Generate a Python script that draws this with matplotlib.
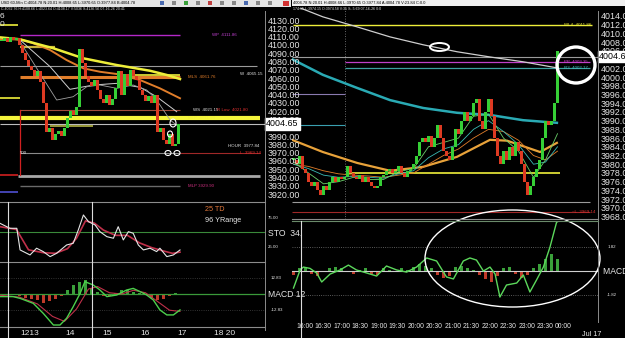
import numpy as np
import matplotlib.pyplot as plt
from matplotlib.patches import Ellipse, Rectangle

plt.rcParams['font.family'] = ['Liberation Sans', 'DejaVu Sans']

W, H = 625, 338

# ---------------- left chart: 60-min bars ----------------
left_close = [4105, 4108, 4103, 4110, 4106, 4108, 4100, 4090, 4082, 4075,
              4070, 4062, 4068, 4055, 4030, 3995, 4000, 3985, 3992, 3996,
              3990, 4000, 4012, 4020, 4015, 4025, 4095, 4078, 4062, 4055,
              4050, 4058, 4045, 4035, 4030, 4040, 4028, 4035, 4048, 4068,
              4040, 4065, 4050, 4070, 4062, 4058, 4045, 4040, 4032, 4038,
              4030, 4040, 3995, 4000, 3985, 3980, 3992, 3978, 3980, 4004]

left_yellow_x = [-0.5, 6.2, 17.3, 27.3, 38.4, 49.5, 55.1, 59.5]
left_yellow = [4109.1, 4106.7, 4095.9, 4083.8, 4075.7, 4068.8, 4063.7, 4058.8]
left_orange_x = [-0.5, 6.2, 10.6, 16.2, 21.7, 27.3, 32.8, 38.4, 46.2, 52.8, 59.5]
left_orange = [4106.7, 4106.7, 4101.9, 4093.8, 4081.7, 4071.7, 4067.6, 4064.9,
               4057.6, 4047.6, 4035.6]
left_white1_x = [6.2, 16.2, 22.8, 30.6, 38.4, 46.2, 51.7, 58.4]
left_white1 = [4105.9, 4073.7, 4046.4, 4051.6, 4053.6, 4048.8, 4037.5, 4019.4]
left_white2_x = [6.2, 12.8, 18.4, 23.9, 28.4, 32.8, 38.4, 43.9, 48.4, 51.7, 56.2, 59.0]
left_white2 = [4103.8, 4065.7, 4033.5, 4037.5, 4049.5, 4051.6, 4047.6, 4051.6,
               4045.6, 4033.5, 4009.4, 4001.3]

# level lines: value, start bar, end bar
left_levels = [4111.86, 4075.0, 4061.76, 4064.0, 4097.0, 4124.0, 4036.0, 4021.5,
               4011.9, 4005.0, 4002.0, 3970.0, 3969.14, 3942.0, 3943.0, 3929.9, 3923.0]
left_level_from = [6.2, -0.5, 6.2, 43.9, 6.2, -0.5, -0.5, 6.2,
                   -0.5, -0.5, 16.2, 6.2, 59.5, 5.5, -0.5, 6.2, -0.5]
left_level_to = [59.5, 85.2, 59.5, 59.5, 17.8, 5.5, 6.0, 59.5,
                 86.2, 87.8, 30.5, 59.5, 86.2, 86.2, 5.5, 59.5, 5.5]

# stochastic
sto_x = [-0.5, 2.8, 5.1, 6.2, 9.5, 11.7, 13.9, 16.2, 18.4, 21.7, 23.9, 25.6, 27.3,
         29.0, 31.2, 32.8, 35.1, 37.3, 38.9, 40.6, 42.3, 43.9, 45.6, 47.3, 49.5,
         51.7, 52.8, 55.1, 57.3, 59.5]
sto_k = [65.8, 57.2, 57.2, 19.8, 11.2, 22.8, 17.0, 8.3, 14.1, 28.4, 31.3, 54.3, 80.2,
         68.6, 62.9, 51.4, 42.8, 40.0, 60.0, 37.1, 51.4, 48.6, 28.4, 19.8, 22.8,
         17.0, 22.8, 8.3, 11.2, 19.8]
sto_d_x = [-0.5, 5, 9, 14, 18, 22, 25, 28, 31, 34, 38, 42, 46, 50, 54, 57, 59.5]
sto_d = [60, 55, 20, 15, 14, 22, 40, 70, 66, 54, 45, 45, 32, 24, 18, 14, 16]

# left MACD
macd_l_x = [-0.5, 3.9, 6.2, 10.6, 13.9, 17.3, 19.5, 21.7, 23.9, 26.2, 27.8, 30.6,
            32.8, 35.1, 38.4, 41.7, 43.9, 46.2, 48.4, 50.6, 52.8, 55.1, 57.3, 59.5]
macd_l = [-2.1, -2.1, -3.5, -7.5, -15.5, -24.9, -24.9, -19.5, -10.2, 0.5, 9.9, 7.2,
          3.2, -2.1, -0.8, 3.2, 4.5, 1.9, -0.8, -4.8, -12.8, -16.8, -16.8, -12.8]
sig_l_x = [-0.5, 6, 12, 17, 21, 25, 29, 32, 36, 40, 44, 48, 52, 56, 59.5]
sig_l = [-1, -2.5, -8, -18, -22, -12, 4, 6, 1, 0, 3, 1, -6, -13, -14]
hist_l = [-1, -1, -0.5, -1.5, -3, -4, -5, -7, -6, -4, -2, 3, 7, 10, 11,
          5, 2, -2, -1.5, 1, 3, 3, 2, 1, -1, -3, -5, -4, -2, 1]

left_days = ['1213', '14', '15', '16', '17', '18 20']
left_day_pos = [9.5, 22.8, 35.2, 47.8, 60.2, 74.5]

# ---------------- right chart: 5-min bars ----------------
right_close = [3981, 3980, 3982, 3979, 3978, 3976, 3975, 3976, 3974, 3973,
               3975, 3974, 3976, 3977, 3976, 3977, 3976.5, 3977, 3979.5, 3978,
               3977, 3976.5, 3977.5, 3976, 3977, 3976, 3975, 3974.5, 3975, 3977,
               3977.5, 3978.5, 3979, 3978, 3978.5, 3979.5, 3978, 3977, 3978.5, 3979,
               3980, 3982, 3985, 3986, 3985, 3986.5, 3984, 3986, 3989, 3986,
               3983, 3982, 3981, 3984, 3988, 3987, 3990, 3992, 3990, 3991,
               3994, 3995, 3990, 3988, 3992, 3995, 3991, 3986, 3982, 3980,
               3983, 3981, 3984, 3982, 3985, 3983, 3980, 3976, 3973, 3975,
               3977, 3979, 3981, 3986, 3990, 3989, 3990, 3994, 4006]

r_ma_x = [0, 5, 10, 15, 20, 25, 30, 35, 40, 45, 50, 55, 60, 65, 70, 75, 80, 84, 88]
r_fast = [3980.5, 3978, 3975.5, 3976, 3977, 3976.5, 3976.5, 3978.3, 3979, 3984,
          3985, 3986, 3991, 3991.5, 3986, 3983, 3977, 3981, 3987]
r_mid = [3980, 3979, 3977.5, 3977, 3977.2, 3977, 3976.8, 3977.8, 3978.5, 3981.5,
         3983.5, 3984.5, 3988, 3990, 3987.5, 3984.5, 3980, 3980.5, 3984]
r_slow = [3980, 3979.5, 3978.5, 3977.8, 3977.5, 3977.3, 3977, 3977.5, 3978, 3980,
          3982, 3983.5, 3986, 3988, 3987.5, 3985.5, 3982, 3981, 3983]

r_long_x = [-0.2, 9.8, 21.2, 32.2, 43.2, 54.5, 65.5, 76.5, 87.8]
r_white = [4016.5, 4013.8, 4011.5, 4009.2, 4007.4, 4005.8, 4004.6, 4003.5, 4002.1]
r_cyan = [4004.0, 4000.5, 3997.5, 3994.7, 3992.9, 3991.8, 3991.3, 3990.1, 3989.5]
r_gold_x = [-0.5, 9.8, 21.2, 32.2, 43.2, 54.5, 65.5, 71.2, 82.2, 87.8]
r_gold = [3985.6, 3982.8, 3980.3, 3978.5, 3979.4, 3981.7, 3985.6, 3985.4, 3982.8, 3984.9]

right_levels = [4011.86, 4004.6, 4003.35, 4002.17, 3978.0, 3971.3, 3969.14, 3996.1, 3989.0]
right_level_from = [-0.3, -0.5, 17.0, 17.0, 17.8, -0.5, -0.5, -0.5, -0.5]
right_level_to = [99.5, 101.5, 98.8, 98.8, 88.8, 98.8, 98.8, 17.0, 17.0]

macd_r_x = [0, 2.2, 3.3, 5.5, 7.7, 9.4, 12.2, 15.5, 18.3, 21, 24.4, 27.7, 31, 34.4,
            37.7, 41, 44.4, 47.7, 51, 53.3, 56.6, 58.8, 61, 63.3, 65.5, 67.2, 68.8,
            71, 74.4, 76.6, 78.8, 81, 83.3, 85.5, 87.7, 89.4]
macd_r = [-1.29, 0.08, 0.3, 0.2, -0.15, -0.83, -0.23, 0.08, 0.45, 0.08, -0.15, -0.38,
          0.38, 0.08, -0.08, 0.3, 0.99, 0.76, -0.45, -0.6, 0.76, 0.99, 0.83, 0.0,
          0.3, -0.23, -1.97, -1.06, -0.91, -0.3, -1.59, -0.68, 0.3, 1.82, 3.7, 3.9]
hist_r = [-0.3, 0.2, 0.3, -0.2, -0.4, -0.1, 0.2, 0.3, 0.2, -0.1, -0.2, 0.1, 0.2,
          -0.2, -0.3, 0.2, 0.1, -0.1, 0.2, 0.1, 0.3,
          0.5, 0.4, 0.2, -0.3, -0.5, -0.4, 0.3, 0.4, 0.2, 0.1, -0.3, -0.6, -0.8,
          -0.4, 0.2, 0.3, -0.2, -0.5, -0.3, 0.2, 0.5, 0.9, 1.3, 0.9]

right_times = ['16:00', '16:30', '17:00', '18:30', '19:00', '19:30', '20:00', '20:30',
               '21:00', '21:30', '22:00', '22:30', '23:00', '23:30', '00:00']

last_price = 4004.65

GREEN = '#36cf36'
RED = '#de3a22'
YELLOW = '#eeee3a'
WHITE = '#e6e6e6'

fig = plt.figure(figsize=(W / 100, H / 100), dpi=100, facecolor='black')


def px_axes(x0, y0, x1, y1):
    ax = fig.add_axes([x0 / W, 1 - y1 / H, (x1 - x0) / W, (y1 - y0) / H])
    ax.set_facecolor('none')
    for s in ax.spines.values():
        s.set_visible(False)
    ax.set_xticks([])
    ax.set_yticks([])
    ax.tick_params(length=0, colors=WHITE, labelsize=6.4, pad=2)
    return ax


def draw_candles(ax, closes, width):
    c = np.asarray(closes, float)
    o = np.r_[c[0], c[:-1]]
    x = np.arange(len(c))
    h = c - o
    col = np.where(h >= 0, GREEN, RED)
    h = np.where(np.abs(h) < 0.4, 0.4, h)
    ax.bar(x, h, bottom=o, width=width, color=col, linewidth=0, zorder=4)


def levels(ax, vals, x0, x1, colors, widths):
    for v, a, b, c, w in zip(vals, x0, x1, colors, widths):
        ax.plot([a, b], [v, v], color=c, lw=w, zorder=2, solid_capstyle='butt')


def price_ticks(ax, ticks, hidden):
    # the last-price box covers the tick nearest to it
    ax.yaxis.tick_right()
    ax.set_yticks(ticks)
    ax.set_yticklabels(['' if abs(v - hidden) < 1e-6 else f'{v:.2f}' for v in ticks])
    ax.text(1.004, last_price, f'{last_price:.2f}', transform=ax.get_yaxis_transform(),
            fontsize=6.4, color='black', va='center', ha='left', zorder=6,
            bbox=dict(boxstyle='square,pad=0.12', fc='white', ec='white'))


# ---------- right price (added first so left labels sit on top) ----------
axr = px_axes(292, 8, 598, 219)
axr.set_xlim(-0.5, 101.5)
axr.set_ylim(3967.44, 4015.83)
rcols = [YELLOW, '#9a9a9a', '#c040c8', '#3aa0a0', YELLOW, '#9a9a9a', '#a02828',
         '#8a7ab0', '#3aa0b0']
rlws = [1.0, 0.8, 0.9, 0.9, 1.2, 0.8, 0.8, 0.8, 0.8]
levels(axr, right_levels, right_level_from, right_level_to, rcols, rlws)
axr.axvline(17.0, color='#888888', lw=0.6, ls=(0, (1, 2)), zorder=1)
axr.plot(r_long_x, r_white, color='#cfcfcf', lw=0.9, zorder=3)
axr.plot(r_long_x, r_cyan, color='#2aaab4', lw=1.8, zorder=3)
axr.plot(r_gold_x, r_gold, color='#e8a23a', lw=1.6, zorder=3)
axr.plot(r_ma_x, r_slow, color='#e07d2a', lw=0.6, zorder=3)
axr.plot(r_ma_x, r_mid, color='#3abab4', lw=0.6, zorder=3)
axr.plot(r_ma_x, r_fast, color='#6ad06a', lw=0.6, zorder=3)
draw_candles(axr, right_close, 0.7)
price_ticks(axr, np.arange(3968, 4015, 2), 4004)
tr = axr.get_yaxis_transform()
tiny = 3.2
axr.text(0.89, 4011.86, 'WL4  4011.86', color=YELLOW, fontsize=tiny, va='center', transform=tr)
axr.text(0.89, 4003.35, 'PP  4003.35', color='#d040d0', fontsize=tiny, va='center', transform=tr)
axr.text(0.89, 4002.17, 'R3  4002.17', color='#40c0c0', fontsize=tiny, va='center', transform=tr)
axr.text(0.915, 3969.14, '~L  3969.14', color='#e03030', fontsize=tiny, va='center', transform=tr)

# ---------- right MACD ----------
axq = px_axes(292, 221, 598, 320)
axq.set_xlim(-0.5, 101.5)
axq.set_ylim(-3.71, 3.79)
axq.axhline(0, color='#d0d0d0', lw=0.8)
axq.axhline(1.82, color='#777777', lw=0.6, ls=':')
axq.axhline(-1.82, color='#777777', lw=0.6, ls=':')
hrx = np.arange(0, 89, 2)
hr = np.asarray(hist_r, float)
axq.bar(hrx, hr, width=1.0, color=np.where(hr >= 0, '#3aa03a', '#c03a2a'), linewidth=0)
axq.plot(macd_r_x, macd_r, color='#5cd85c', lw=1.0)
tq = axq.get_yaxis_transform()
axq.text(1.015, 0, 'MACD 1', color=WHITE, fontsize=6.2, va='center', transform=tq)
axq.text(1.03, 1.82, '1.82', color=WHITE, fontsize=tiny, va='center', transform=tq)
axq.text(1.03, -1.82, '-1.82', color=WHITE, fontsize=tiny, va='center', transform=tq)
axq.set_xticks(3.8 + 6.16 * np.arange(len(right_times)))
axq.set_xticklabels(right_times)
axq.tick_params(axis='x', labelsize=4.9, pad=2.5, colors=WHITE)

# ---------- left price ----------
axl = px_axes(0, 8, 265, 201)
axl.set_xlim(-0.5, 87.83)
axl.set_ylim(3911.7, 4144.5)
lcols = ['#b428c8', '#9a9a9a', '#e07d2a', YELLOW, '#c8b43a', YELLOW, YELLOW, '#a04a3a',
         '#f4f43c', '#bdbdbd', '#9a9a3a', '#8a8a8a', '#a02828', '#a8a8a8', '#d02020',
         '#6a6a6a', '#5050d0']
lws = [1.0, 0.8, 2.2, 1.2, 1.6, 1.2, 1.2, 0.8, 3.0, 0.8, 1.4, 0.8, 0.8, 2.0, 1.2, 1.0, 1.2]
levels(axl, left_levels, left_level_from, left_level_to, lcols, lws)
axl.plot([6.0, 6.0], [3943, 4021.5], color='#d02020', lw=0.9, zorder=2)
axl.plot(left_orange_x, left_orange, color='#e07d2a', lw=1.4, zorder=3)
axl.plot(left_yellow_x, left_yellow, color=YELLOW, lw=1.8, zorder=3)
axl.plot(left_white1_x, left_white1, color='#cfcfcf', lw=0.7, zorder=3)
axl.plot(left_white2_x, left_white2, color='#a0a0a0', lw=0.6, zorder=3)
draw_candles(axl, left_close, 0.7)
price_ticks(axl, np.arange(3920, 4131, 10), 4000)
tl = axl.get_yaxis_transform()
axl.text(0.80, 4111.86, 'WP  4111.86', color='#c040d0', fontsize=tiny, va='center', transform=tl)
axl.text(0.71, 4061.76, 'MLS  4061.76', color='#e07d2a', fontsize=tiny, va='center', transform=tl)
axl.text(0.905, 4065.15, 'W  4065.15', color=WHITE, fontsize=tiny, va='center', transform=tl)
axl.text(0.73, 4021.5, 'WS  4021.15', color=WHITE, fontsize=tiny, va='center', transform=tl)
axl.text(0.82, 4021.5, 'R Low  4021.80', color='#e03030', fontsize=tiny, va='center', transform=tl)
axl.text(0.71, 4011.9, 'MLP  4011.90', color=YELLOW, fontsize=tiny, va='center', transform=tl)
axl.text(0.86, 3977.84, 'HOUR  3977.84', color=WHITE, fontsize=tiny, va='center', transform=tl)
axl.text(0.905, 3969.14, 'L  3969.14', color='#e03030', fontsize=tiny, va='center', transform=tl)
axl.text(0.075, 3970, '500', color=WHITE, fontsize=tiny, va='center', transform=tl)
axl.text(0.71, 3929.9, 'MLP 3929.90', color='#d03080', fontsize=tiny, va='center', transform=tl)

# ---------- left stochastic ----------
axs = px_axes(0, 202, 265, 262)
axs.set_xlim(-0.5, 87.83)
axs.set_ylim(-1, 102.6)
axs.axhline(50, color='#3a8a3a', lw=0.8)
axs.plot(sto_d_x, sto_d, color='#c0304a', lw=1.2)
axs.plot(sto_x, sto_k, color=WHITE, lw=0.8)
ts = axs.get_yaxis_transform()
axs.text(0.775, 89, '25 TD', color='#e0763a', fontsize=5.2, va='center', transform=ts)
axs.text(0.775, 70, '96 YRange', color=WHITE, fontsize=5.2, va='center', transform=ts)
axs.text(1.01, 75, '75.00', color=WHITE, fontsize=tiny, va='center', transform=ts)
axs.text(1.01, 25, '25.00', color=WHITE, fontsize=tiny, va='center', transform=ts)
axs.text(1.01, 48, 'STO  34,', color=WHITE, fontsize=6.2, va='center', transform=ts)

# ---------- left MACD ----------
axm = px_axes(0, 262, 265, 327)
axm.set_xlim(-0.5, 87.83)
axm.set_ylim(-26.5, 25.7)
axm.axhline(0, color='#3a9a3a', lw=0.9)
axm.axhline(12.83, color='#444444', lw=0.6, ls=':')
axm.axhline(-12.83, color='#444444', lw=0.6, ls=':')
hx = np.arange(0, 60, 2)
ha = np.asarray(hist_l, float)
axm.bar(hx, ha, width=1.0, color=np.where(ha >= 0, '#3aa03a', '#c03a2a'), linewidth=0)
axm.plot(sig_l_x, sig_l, color='#c0304a', lw=0.8)
axm.plot(macd_l_x, macd_l, color='#4cd04c', lw=1.0)
tm = axm.get_yaxis_transform()
axm.text(1.02, 12.83, '12.83', color=WHITE, fontsize=tiny, va='center', transform=tm)
axm.text(1.02, -12.83, '-12.83', color=WHITE, fontsize=tiny, va='center', transform=tm)
axm.text(1.01, 0, 'MACD 12', color=WHITE, fontsize=6.2, va='center', transform=tm)
axm.set_xticks(left_day_pos)
axm.set_xticklabels(left_days)
axm.tick_params(axis='x', labelsize=6.0, pad=2, colors=WHITE)

# ---------- frame, toolbar and hand-drawn marks (pixel overlay) ----------
ov = fig.add_axes([0, 0, 1, 1])
ov.set_xlim(0, W)
ov.set_ylim(H, 0)
ov.axis('off')
ov.set_facecolor('none')

ov.add_patch(Rectangle((0, 0), 291, 6.5, fc='#e4e4e4', ec='none'))
ov.add_patch(Rectangle((292, 0), 333, 6, fc='#f0f0f0', ec='none'))
ov.text(1, 3.3, 'USD 60-Min C:4004.78 N:20.01 H:4008.65 L:3970.65 O:3977.84 B:4004.78',
        fontsize=2.9, color='black', va='center')
for k, c in enumerate(['#4a6ab0', '#888', '#3aa03a', '#888', '#c04040', '#888',
                       '#888', '#4a6ab0', '#888', '#888']):
    ov.add_patch(Rectangle((160 + 12 * k, 1.2), 4, 4, fc=c, ec='none'))
ov.add_patch(Rectangle((283, 0.8), 6, 5, fc='#d03030', ec='none'))
ov.text(293, 3.0, '4004.78 N:20.01 H:4008.66 L:3970.65 O:3977.84 A:4004.78 V:23.84 C:0.0',
        fontsize=2.9, color='black', va='center')
ov.text(1, 9.3, 'C:4032.76 H:4108.66 L:4023.64 O:4108.17 V:5036 S:4136.56 07-16-26 20:41',
        fontsize=2.6, color=WHITE, va='center')
ov.text(293, 9.3, '174.15 L:3974.15 O:3974.58 V:35 S:-5.69 07-16-26 0:0',
        fontsize=2.6, color=WHITE, va='center')
ov.text(0, 17, '6', fontsize=6, color=WHITE, va='center')
ov.text(0, 24, '0', fontsize=6, color=WHITE, va='center')

g = '#8c8c8c'
ov.plot([265, 265], [11, 330], color=g, lw=0.7)
ov.plot([598, 598], [11, 322], color=g, lw=0.7)
ov.plot([0, 265], [201.5, 201.5], color=g, lw=0.8)
ov.plot([0, 265], [262, 262], color=g, lw=0.8)
ov.plot([0, 265], [327, 327], color=g, lw=0.8)
ov.plot([292, 598], [219, 219], color=g, lw=0.8)
ov.plot([292, 598], [221, 221], color='#6a8a6a', lw=0.8)
for xv in (8, 92):
    ov.plot([xv, xv], [202, 338], color='#dcdcdc', lw=0.8)
ov.plot([301, 301], [221, 338], color='#dcdcdc', lw=0.8)
ov.text(592, 334, 'Jul 17', fontsize=5.2, color=WHITE, ha='center', va='center')

# circles drawn on the screenshot
ov.add_patch(Ellipse((576, 65), 38, 36, fill=False, ec='white', lw=2.4))
ov.add_patch(Ellipse((439.5, 47), 19, 8, fill=False, ec='white', lw=1.4))
ov.add_patch(Ellipse((512.5, 258.5), 175, 97, fill=False, ec='white', lw=1.0))
for cx, cy, w, h in [(173, 123, 6, 8), (170, 134, 5, 6), (168, 153, 6, 5), (177, 153, 6, 5)]:
    ov.add_patch(Ellipse((cx, cy), w, h, fill=False, ec='white', lw=0.8))

fig.savefig('out.png', dpi=100, facecolor='black')
